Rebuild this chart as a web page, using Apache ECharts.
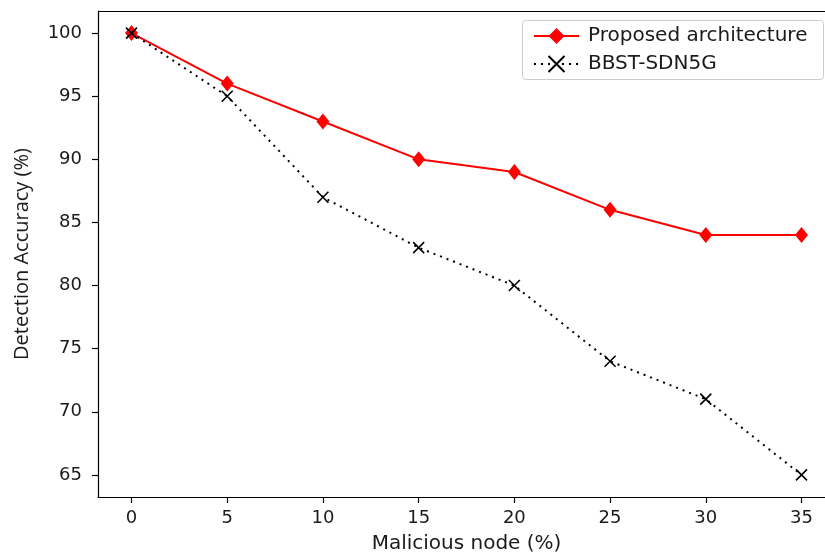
<!DOCTYPE html>
<html><head><meta charset="utf-8">
<script src="https://cdn.jsdelivr.net/npm/echarts@6/dist/echarts.min.js"></script>
<style>html,body{margin:0;padding:0;background:#fff}#c{width:825px;height:554px}</style>
</head><body><div id="c"></div>
<script>
const categories = [0, 5, 10, 15, 20, 25, 30, 35];
const proposed = [100, 96, 93, 90, 89, 86, 84, 84];
const bbst = [100, 95, 87, 83, 80, 74, 71, 65];
const xTicks = [0, 5, 10, 15, 20, 25, 30, 35];
const yTicks = [65, 70, 75, 80, 85, 90, 95, 100];

const chart = echarts.init(document.getElementById('c'), null, {renderer: 'canvas'});
const font = 'DejaVu Sans';
const axisLine = {show: true, onZero: false, lineStyle: {color: '#000', width: 1.2}};
chart.setOption({
  animation: false,
  grid: {left: 98, top: 11, bottom: 57, right: -10, containLabel: false, outerBoundsMode: 'none'},
  xAxis: {
    type: 'value', min: -1.75, max: 36.75,
    axisLine: axisLine, splitLine: {show: false},
    axisTick: {show: true, inside: false, length: 6, lineStyle: {color: '#000', width: 1.2}, customValues: xTicks},
    axisLabel: {customValues: xTicks, fontFamily: font, fontSize: 18, color: '#1a1a1a', margin: 12},
    name: 'Malicious node (%)', nameLocation: 'middle', nameGap: 37,
    nameTextStyle: {fontFamily: font, fontSize: 20, color: '#1a1a1a'}
  },
  yAxis: {
    type: 'value', min: 63.25, max: 101.75,
    axisLine: axisLine, splitLine: {show: false},
    axisTick: {show: true, inside: false, length: 6, lineStyle: {color: '#000', width: 1.2}, customValues: yTicks},
    axisLabel: {customValues: yTicks, fontFamily: font, fontSize: 18, color: '#1a1a1a', margin: 16},
    name: 'Detection Accuracy (%)', nameLocation: 'middle', nameGap: 66,
    nameTextStyle: {fontFamily: 'Open Sans', fontSize: 20, color: '#1a1a1a'}
  },
  graphic: [
    {type: 'line', shape: {x1: 98, y1: 11.5, x2: 825, y2: 11.5}, style: {stroke: '#000', lineWidth: 1.2}, silent: true},
    {type: 'rect', shape: {x: 522.5, y: 20.5, width: 301, height: 59, r: 3}, style: {fill: '#fff', stroke: '#ccc', lineWidth: 1}, z: 5}
  ],
  legend: {
    left: 528, top: 21, orient: 'vertical', itemGap: 8, itemWidth: 45, itemHeight: 20, z: 10,
    textStyle: {fontFamily: font, fontSize: 20, lineHeight: 20, color: '#1a1a1a', padding: [0, 0, 0, 4]},
    data: ['Proposed architecture', 'BBST-SDN5G']
  },
  series: [
    {
      name: 'Proposed architecture', type: 'line',
      data: categories.map((x, i) => [x, proposed[i]]),
      lineStyle: {color: '#ff0000', width: 2},
      itemStyle: {color: '#ff0000'},
      symbol: 'diamond', symbolSize: [13, 16], z: 3
    },
    {
      name: 'BBST-SDN5G', type: 'line',
      data: categories.map((x, i) => [x, bbst[i]]),
      lineStyle: {color: '#000', width: 2, type: [2, 5]},
      itemStyle: {color: 'transparent', borderColor: '#000', borderWidth: 1.6},
      symbol: 'path://M0,0L10,10M10,0L0,10', symbolSize: 11, z: 4
    }
  ]
});
</script></body></html>
